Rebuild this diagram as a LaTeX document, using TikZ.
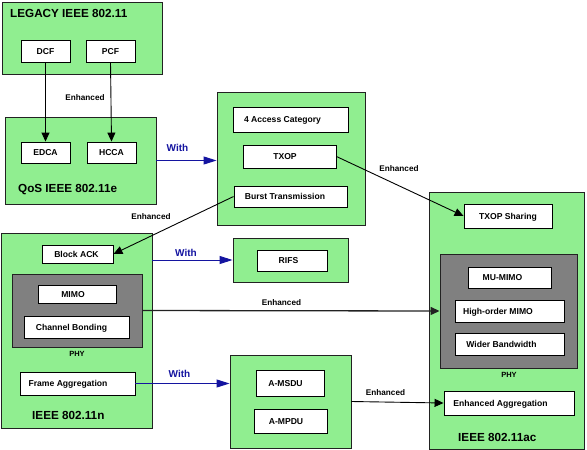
\documentclass[tikz,border=0pt]{standalone}
\usepackage{fontspec}
\setmainfont{Liberation Sans}
\usetikzlibrary{arrows.meta}
\definecolor{boxgreen}{HTML}{90EE90}
\definecolor{phygray}{HTML}{808080}
\definecolor{withblue}{HTML}{1414A0}
\definecolor{edgec}{HTML}{222222}
\newcommand{\tsh}[2]{#2\hspace*{#1pt}}
\begin{document}
\begin{tikzpicture}[x=1pt,y=-1pt,
  sz/.style 2 args={minimum width=#1pt, minimum height=#2pt},
  grp/.style={draw=edgec, fill=boxgreen, line width=0.9pt, inner sep=0pt},
  phy/.style={draw=edgec, fill=phygray, line width=0.9pt, inner sep=0pt},
  feat/.style={draw=black, fill=white, line width=0.9pt, inner sep=0pt,
    font=\fontsize{8.6}{10}\selectfont\bfseries, text height=6.1pt, text depth=0pt},
  title/.style={inner sep=0pt, anchor=base west, font=\fontsize{11.7}{14}\selectfont\bfseries},
  phylbl/.style={inner sep=0pt, anchor=base, font=\fontsize{7.5}{9}\selectfont\bfseries},
  enh/.style={inner sep=0pt, anchor=base, font=\fontsize{8.2}{10}\selectfont\bfseries},
  withl/.style={inner sep=0pt, anchor=base, text=withblue, font=\fontsize{10}{12}\selectfont\bfseries},
  blk/.style={draw=black, line width=0.9pt, -{Triangle[length=9pt,width=8pt]}},
  blu/.style={draw=withblue, line width=0.9pt, -{Triangle[length=13pt,width=8pt]}}
]
\useasboundingbox (0,0) rectangle (587,450);
% Legacy
\node[grp, sz={160}{72}] (legacy) at (82,38) {};
\node[title] (legacyT) at (10,17.2) {LEGACY IEEE 802.11};
\node[feat, sz={49}{22}] (dcf) at (45.5,51) {DCF};
\node[feat, sz={49}{22}] (pcf) at (110.5,51) {PCF};
% QoS
\node[grp, sz={151}{87}] (qos) at (80.5,160.5) {};
\node[feat, sz={49}{21}] (edca) at (45.5,152.5) {EDCA};
\node[feat, sz={49}{21}] (hcca) at (111.5,152.5) {HCCA};
\node[title] (qosT) at (18,192.3) {QoS IEEE 802.11e};
% 802.11e features
\node[grp, sz={148}{133}] (e) at (291,158.5) {};
\node[feat, sz={115}{25}] (ac4) at (290.5,119.5) {\tsh{16}{4 Access Category}};
\node[feat, sz={93}{23}] (txop) at (289.5,156.5) {\tsh{9}{TXOP}};
\node[feat, sz={113}{21}] (burst) at (290.5,196.5) {\tsh{11}{Burst Transmission}};
% 802.11n
\node[grp, sz={151}{195}] (n) at (76.5,330.5) {};
\node[feat, sz={71}{18}] (back) at (77.5,254) {\tsh{2}{Block ACK}};
\node[phy, sz={130}{73}] (phyn) at (77,310.5) {};
\node[feat, sz={78}{18}] (mimo) at (77,294) {\tsh{8}{MIMO}};
\node[feat, sz={105}{22}] (chb) at (76.5,327) {\tsh{10}{Channel Bonding}};
\node[phylbl] (phynL) at (77,356.7) {PHY};
\node[feat, sz={115}{23}] (fagg) at (77.5,383.5) {\tsh{19}{Frame Aggregation}};
\node[title] (nT) at (32,419.3) {IEEE 802.11n};
% RIFS
\node[grp, sz={115}{44}] (rifsG) at (290.5,260) {};
\node[feat, sz={70}{21}] (rifs) at (292,260.5) {\tsh{7}{RIFS}};
% Aggregation
\node[grp, sz={121}{93}] (aggG) at (290.5,401.5) {};
\node[feat, sz={68}{26}] (amsdu) at (290,383) {\tsh{9}{A-MSDU}};
\node[feat, sz={73}{24}] (ampdu) at (290.5,421) {\tsh{9}{A-MPDU}};
% 802.11ac
\node[grp, sz={155}{257}] (ac) at (506.5,320.5) {};
\node[feat, sz={88}{24}] (txops) at (508,216) {TXOP Sharing};
\node[phy, sz={137}{114}] (phyac) at (508.5,311) {};
\node[feat, sz={83}{21}] (mumimo) at (509.5,277.5) {\tsh{14}{MU-MIMO}};
\node[feat, sz={109}{22}] (hom) at (509.5,311) {\tsh{23}{High-order MIMO}};
\node[feat, sz={109}{22}] (wb) at (509.5,344) {\tsh{16}{Wider Bandwidth}};
\node[phylbl] (phyacL) at (509,377.3) {PHY};
\node[feat, sz={130}{24}] (eagg) at (509,403) {\tsh{17}{Enhanced Aggregation}};
\node[title] (acT) at (458,441) {IEEE 802.11ac};
% connectors
\draw[blk] (dcf.south) -- (edca.north);
\draw[blk] (pcf.south) -- (hcca.north);
\node[enh] (l1) at (85,100.7) {Enhanced};
\draw[blu] (qos.east) -- (qos.east -| e.west);
\node[withl] (w1) at (177.5,151.7) {With};
\draw[blk] (txop.east) -- (txops.west);
\node[enh] (l2) at (399,171) {Enhanced};
\draw[blk] (burst.west) -- (back.east);
\node[enh] (l3) at (151,219) {Enhanced};
\draw[blu] (n.east |- rifsG.west) -- (rifsG.west);
\node[withl] (w2) at (186,256.7) {With};
\draw[blk, draw=edgec, line width=1.3pt] (phyn.east) -- (phyac.west);
\node[enh] (l4) at (281.5,305) {Enhanced};
\draw[blu] (fagg.east) -- (fagg.east -| aggG.west);
\node[withl] (w3) at (179.5,377.7) {With};
\draw[blk] (aggG.east) -- (eagg.west);
\node[enh] (l5) at (385.5,395) {Enhanced};
\end{tikzpicture}
\end{document}
